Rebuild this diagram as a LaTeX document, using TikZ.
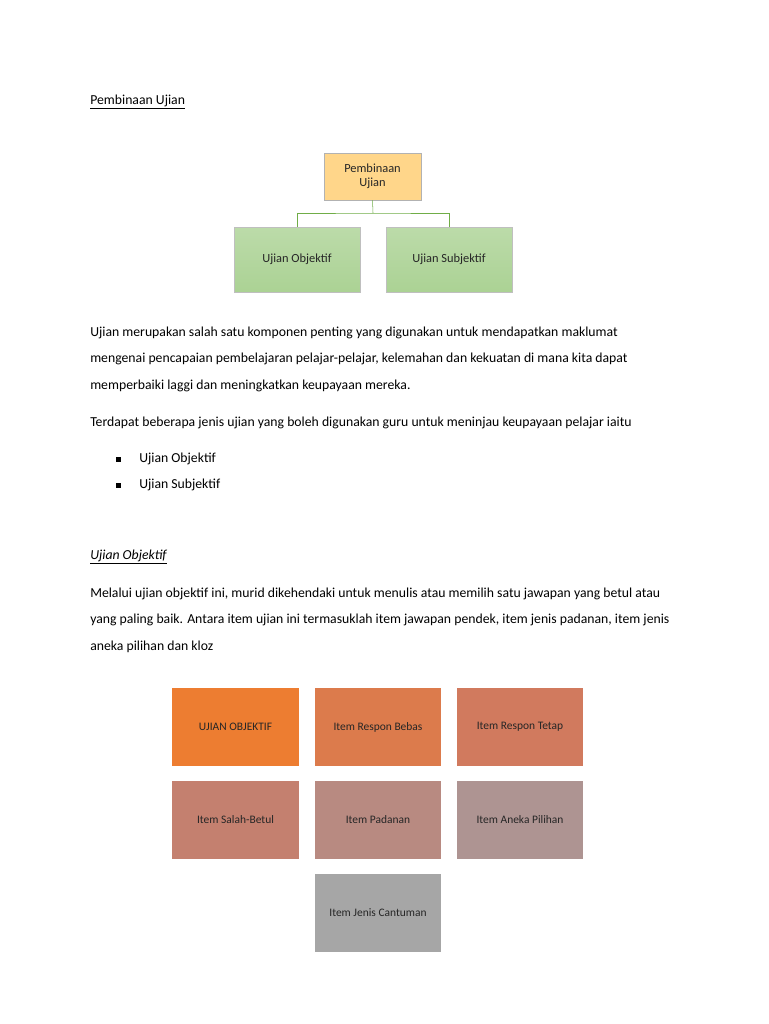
\documentclass[tikz,border=0pt]{standalone}
\usepackage{fontspec}
\setmainfont{Carlito}
\usetikzlibrary{positioning}
\definecolor{topfill}{HTML}{FFD68A}
\definecolor{greenfill}{HTML}{ABD294}
\definecolor{linegreen}{HTML}{70AD47}
\definecolor{cA}{HTML}{ED7D31}
\definecolor{cB}{HTML}{DC7B4C}
\definecolor{cC}{HTML}{D17A5E}
\definecolor{cD}{HTML}{C4806F}
\definecolor{cE}{HTML}{B88A81}
\definecolor{cF}{HTML}{AE9492}
\definecolor{cG}{HTML}{A6A6A6}
\begin{document}
\begin{tikzpicture}[x=0.75pt, y=-0.75pt, font=\fontsize{10.3}{12}\selectfont,
    txt/.style={anchor=west, inner sep=0pt},
    tile/.style={rectangle, minimum width=95pt, minimum height=58.5pt, inner sep=0pt, font=\fontsize{8.6}{10}\selectfont, text=black!85}]
    \useasboundingbox[fill=white] (0,0) rectangle (768,1024);

    % Heading
    \node (head) [txt] at (90,102) {\underline{Pembinaan Ujian}};

    % Tree
    \node (root) [rectangle, draw=black!30, fill=topfill, minimum width=72.75pt, minimum height=35.25pt, align=center, font=\fontsize{9.3}{10.5}\selectfont, text=black!85] at (372.5,176.5) {Pembinaan\\Ujian};
    \node (obj) [rectangle, draw=black!25, top color=greenfill!80, bottom color=greenfill, minimum width=94.5pt, minimum height=48.75pt, font=\fontsize{9.3}{10.5}\selectfont, text=black!85] at (297,259.5) {Ujian Objektif};
    \node (sub) [rectangle, draw=black!25, top color=greenfill!80, bottom color=greenfill, minimum width=94.5pt, minimum height=48.75pt, font=\fontsize{9.3}{10.5}\selectfont, text=black!85] at (449,259.5) {Ujian Subjektif};
    \coordinate (mid) at (373,213);
    \draw[linegreen] (root.south) -- (mid);
    \draw[linegreen] (obj.north) |- (mid) -| (sub.north);

    % Text
    \node (p1) [txt] at (90,333) {Ujian merupakan salah satu komponen penting yang digunakan untuk mendapatkan maklumat};
    \node (p2) [txt] at (90,359) {mengenai pencapaian pembelajaran pelajar-pelajar, kelemahan dan kekuatan di mana kita dapat};
    \node (p3) [txt] at (90,386) {memperbaiki laggi dan meningkatkan keupayaan mereka.};
    \node (p4) [txt] at (90,423) {Terdapat beberapa jenis ujian yang boleh digunakan guru untuk meninjau keupayaan pelajar iaitu};
    \foreach \yy/\tt in {459/Ujian Objektif, 485/Ujian Subjektif} {
        \fill (116,\yy-2.5) rectangle (121,\yy+2.5);
        \node [txt] at (139,\yy) {\tt};
    }
    \node (h2) [txt] at (90,557) {\underline{\textit{Ujian Objektif}}};
    \node (q1) [txt] at (90,594) {Melalui ujian objektif ini, murid dikehendaki untuk menulis atau memilih satu jawapan yang betul atau};
    \node (q2) [txt] at (90,620) {yang paling baik. Antara item ujian ini termasuklah item jawapan pendek, item jenis padanan, item jenis};
    \node (q3) [txt] at (90,647) {aneka pilihan dan kloz};

    % Grid
    \node (t1) [tile, fill=cA] at (235.5,727) {UJIAN OBJEKTIF};
    \node (t2) [tile, fill=cB] at (378,727) {Item Respon Bebas};
    \node (t3) [tile, fill=cC] at (520,727) {Item Respon Tetap};
    \node (t4) [tile, fill=cD] at (235.5,820) {Item Salah-Betul};
    \node (t5) [tile, fill=cE] at (378,820) {Item Padanan};
    \node (t6) [tile, fill=cF] at (520,820) {Item Aneka Pilihan};
    \node (t7) [tile, fill=cG] at (378,913) {Item Jenis Cantuman};
\end{tikzpicture}
\end{document}
